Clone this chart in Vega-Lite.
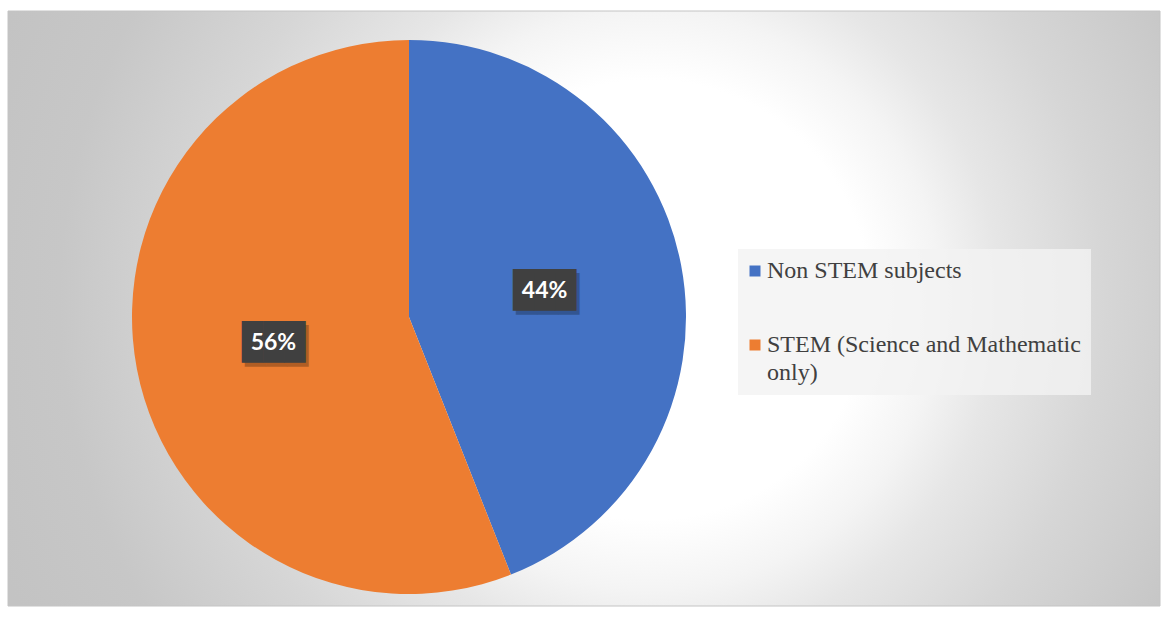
{
  "$schema": "https://vega.github.io/schema/vega-lite/v6.json",
  "width": 1152,
  "height": 595,
  "autosize": {"type": "none"},
  "padding": {"left": 8, "top": 11, "right": 7, "bottom": 11},
  "background": "#ffffff",
  "config": {"view": {"stroke": null}},
  "data": {
    "values": [
      {"category": "Non STEM subjects", "value": 0.44},
      {"category": "STEM (Science and Mathematic only)", "value": 0.56}
    ]
  },
  "layer": [
    {
      "data": {"values": [{}]},
      "mark": {
        "type": "rect",
        "stroke": "#c4c4c4",
        "strokeWidth": 1,
        "fill": {
          "gradient": "radial",
          "x1": 0.557, "y1": 0.4926, "r1": 0,
          "x2": 0.557, "y2": 0.4926, "r2": 0.608,
          "stops": [
            {"offset": 0, "color": "#ffffff"},
            {"offset": 0.314, "color": "#ffffff"},
            {"offset": 0.414, "color": "#f4f4f4"},
            {"offset": 0.5, "color": "#e6e6e6"},
            {"offset": 0.65, "color": "#d6d6d6"},
            {"offset": 0.843, "color": "#c7c7c7"},
            {"offset": 1, "color": "#c3c3c3"}
          ]
        }
      },
      "encoding": {}
    },
    {
      "mark": {"type": "arc", "outerRadius": 277, "x": 401, "y": 306},
      "encoding": {
        "theta": {"field": "value", "type": "quantitative", "stack": true},
        "color": {
          "field": "category",
          "type": "nominal",
          "scale": {
            "domain": ["Non STEM subjects", "STEM (Science and Mathematic only)"],
            "range": ["#4472C4", "#ED7D31"]
          },
          "legend": {
            "title": null,
            "orient": "none",
            "legendX": 730,
            "legendY": 238,
            "symbolType": "square",
            "symbolSize": 121,
            "symbolStrokeWidth": 0,
            "symbolOffset": -5,
            "labelFont": "Liberation Serif",
            "labelFontSize": 24,
            "labelColor": "#404040",
            "labelOffset": 0,
            "labelLimit": 400,
            "padding": 10,
            "fillColor": "rgba(242,242,242,0.8)",
            "rowPadding": 50,
            "labelExpr": "datum.label == 'STEM (Science and Mathematic only)' ? ['STEM (Science and Mathematic', 'only)'] : datum.label",
            "encode": {"labels": {"update": {"lineHeight": {"value": 28}}}}
          }
        }
      }
    },
    {
      "mark": {"type": "text", "radius": 138, "x": 401, "y": 306, "dx": 3, "dy": 4, "text": "███", "font": "DejaVu Sans Mono", "fontSize": 35, "color": "#000000", "opacity": 0.25, "baseline": "middle", "align": "center"},
      "encoding": {
        "theta": {"field": "value", "type": "quantitative", "stack": true},
        "detail": {"field": "category", "type": "nominal"}
      }
    },
    {
      "mark": {"type": "text", "radius": 138, "x": 401, "y": 306, "text": "███", "font": "DejaVu Sans Mono", "fontSize": 35, "color": "#404040", "baseline": "middle", "align": "center"},
      "encoding": {
        "theta": {"field": "value", "type": "quantitative", "stack": true},
        "detail": {"field": "category", "type": "nominal"}
      }
    },
    {
      "mark": {"type": "text", "radius": 138, "x": 401, "y": 306, "font": "Lato", "fontWeight": "bold", "fontSize": 23, "color": "#ffffff", "baseline": "middle", "align": "center"},
      "encoding": {
        "theta": {"field": "value", "type": "quantitative", "stack": true},
        "detail": {"field": "category", "type": "nominal"},
        "text": {"field": "value", "type": "quantitative", "format": ".0%"}
      }
    }
  ]
}
